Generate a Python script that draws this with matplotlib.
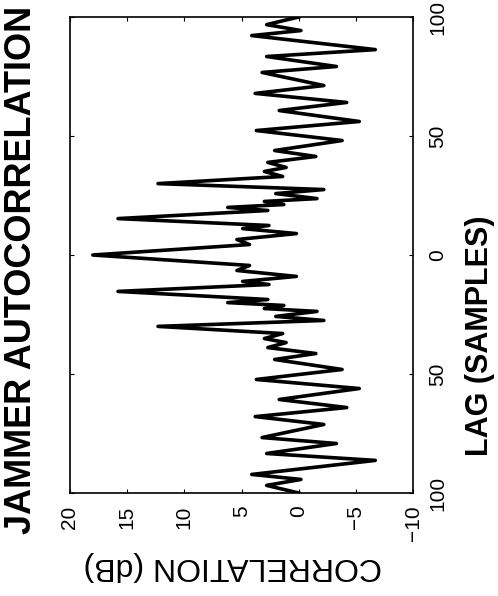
import matplotlib
matplotlib.use("Agg")
import matplotlib.pyplot as plt

plt.rcParams['font.family'] = ['Liberation Sans', 'DejaVu Sans']

# Lag (samples) and correlation (dB)
lag = [-100.0, -96.8, -94.3, -92.2, -86.3, -83.4, -79.2, -76.7, -71.2, -67.9,
       -64.1, -60.7, -56.1, -52.3, -48.1, -43.9, -41.4, -38.9, -36.8, -35.1,
       -33.0, -30.0, -27.5, -25.8, -23.7, -22.5, -21.2, -20.0, -18.7, -15.3,
       -12.4, -11.1, -9.0, -6.5, -4.4, 0.0,
       4.4, 6.5, 9.0, 11.1, 12.4, 15.3, 18.7, 20.0, 21.2, 22.5,
       23.7, 25.8, 27.5, 30.0, 33.0, 35.1, 36.8, 38.9, 41.4, 43.9,
       48.1, 52.3, 56.1, 60.7, 64.1, 67.9, 71.2, 76.7, 79.2, 83.4,
       86.3, 92.2, 94.3, 96.8, 100.0]
corr = [0.0, 2.8, -0.2, 4.1, -6.7, 2.8, -3.3, 3.2, -2.2, 3.8,
        -4.2, 1.7, -5.3, 3.7, -3.8, 2.1, -1.5, 2.7, 1.1, 3.0,
        1.4, 12.3, -2.2, 2.0, -1.6, 3.0, 1.3, 6.2, 2.7, 15.8,
        2.6, 4.9, 0.2, 5.4, 4.3, 18.0,
        4.3, 5.4, 0.2, 4.9, 2.6, 15.8, 2.7, 6.2, 1.3, 3.0,
        -1.6, 2.0, -2.2, 12.3, 1.4, 3.0, 1.1, 2.7, -1.5, 2.1,
        -3.8, 3.7, -5.3, 1.7, -4.2, 3.8, -2.2, 3.2, -3.3, 2.8,
        -6.7, 4.1, -0.2, 2.8, 0.0]

corr_ticks = [20, 15, 10, 5, 0, -5, -10]
corr_tick_labels = ['20', '15', '10', '5', '0', '\u22125', '\u221210']
lag_ticks = [-100, -50, 0, 50, 100]
lag_tick_labels = ['100', '50', '0', '50', '100']

title = 'JAMMER AUTOCORRELATION'
corr_label = 'CORRELATION (dB)'
lag_label = 'LAG (SAMPLES)'

W, H = 498, 596
fig = plt.figure(figsize=(W / 100, H / 100), dpi=100)
ax = fig.add_axes([70 / W, 1 - 493 / H, (413 - 70) / W, (493 - 17) / H])

ax.plot(corr, lag, color='black', lw=2.6, solid_joinstyle='round')

ax.set_xlim(20, -10)
ax.set_ylim(-100, 100)

ax.set_xticks(corr_ticks)
ax.set_xticklabels(corr_tick_labels, rotation=90, fontsize=15, va='top', ha='center')
ax.set_yticks(lag_ticks)
ax.set_yticklabels(lag_tick_labels, rotation=90, fontsize=15, va='center', ha='left')

ax.tick_params(axis='both', direction='in', length=3, width=0.8,
               top=True, bottom=True, left=True, right=True,
               labelleft=False, labelright=True, labelbottom=True)
ax.tick_params(axis='x', pad=9)
ax.tick_params(axis='y', pad=11)

for s in ax.spines.values():
    s.set_linewidth(1.2)

ax.set_xlabel(corr_label, rotation=180, fontsize=23, va='center', ha='center')
ax.xaxis.set_label_coords((233 - 70) / 343, (493 - 566) / 476)
ax.yaxis.set_label_position('right')
ax.set_ylabel(lag_label, rotation=90, fontsize=22, fontweight='bold', va='center', ha='center')
ax.yaxis.set_label_coords((480 - 70) / 343, (493 - 336) / 476)

fig.text(22 / W, 1 - 270 / H, title, rotation=90, fontsize=26, fontweight='bold',
         ha='center', va='center')

fig.savefig('out.png', dpi=100, facecolor='white')
